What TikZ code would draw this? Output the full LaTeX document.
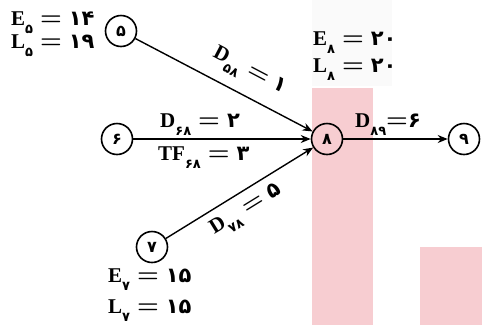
\documentclass[tikz,border=0pt]{standalone}
\usepackage{fontspec}
\setmainfont{Liberation Serif}
\newfontfamily\fadig{DejaVu Sans}
\usetikzlibrary{arrows.meta}
\newcommand{\pd}[1]{{\fontsize{21}{21}\fadig\bfseries #1}}
\newcommand{\sbd}[1]{\raisebox{-8pt}{\fontsize{13}{13}\fadig\bfseries #1}}
\newcommand{\eqm}{{\fontsize{25}{25}\selectfont\boldmath$=$}}
\newcommand{\eqs}{\hspace{7pt}\eqm\hspace{7pt}}
\definecolor{wmpink}{RGB}{247,205,209}
\begin{document}
\begin{tikzpicture}[x=1pt,y=-1pt,
  ev/.style={circle,draw,line width=1.6pt,minimum size=31pt,inner sep=0pt,font=\fontsize{16}{16}\fadig\bfseries},
  act/.style={line width=1.4pt,-{Stealth[length=10pt,width=8pt]}},
  lbl/.style={font=\fontsize{21}{22}\selectfont\bfseries,inner sep=0pt},
  slbl/.style={font=\fontsize{21}{22}\selectfont\bfseries,inner sep=2pt},
]
\useasboundingbox (0,0) rectangle (482,325);
% watermark patches
\fill[gray!4] (312,0) rectangle (392,86);
\fill[wmpink] (312,88) rectangle (373,325);
\fill[wmpink] (420,247) rectangle (482,325);
% events
\node[ev] (n5) at (121,31) {۵};
\node[ev] (n6) at (117,139) {۶};
\node[ev] (n8) at (327,139) {۸};
\node[ev] (n9) at (464,139) {۹};
\node[ev] (n7) at (152,247) {۷};
% activities
\draw[act] (n5) -- node[slbl,sloped,pos=0.58,above=9pt] {D\sbd{۵۸}\eqs\pd{۱}} (n8);
\draw[act] (n6) -- (n8);
\draw[act] (n7) -- node[slbl,sloped,pos=0.48,below=6pt] {D\sbd{۷۸}\eqs\pd{۵}} (n8);
\draw[act] (n8) -- (n9);
% labels
\node[lbl,anchor=base west] (e5) at (11,25) {E\sbd{۵}\eqs\pd{۱۴}};
\node[lbl,anchor=base west] (l5) at (11,48) {L\sbd{۵}\eqs\pd{۱۹}};
\node[lbl,anchor=base west] (e8) at (313,45) {E\sbd{۸}\eqs\pd{۲۰}};
\node[lbl,anchor=base west] (l8) at (313,72) {L\sbd{۸}\eqs\pd{۲۰}};
\node[lbl,anchor=base west] (e7) at (108,282) {E\sbd{۷}\eqs\pd{۱۵}};
\node[lbl,anchor=base west] (l7) at (108,313) {L\sbd{۷}\eqs\pd{۱۵}};
\node[lbl,anchor=base west] (d68) at (160,127) {D\sbd{۶۸}\eqs\pd{۲}};
\node[lbl,anchor=base west] (tf68) at (158,160) {TF\sbd{۶۸}\eqs\pd{۳}};
\node[lbl,anchor=base west] (d89) at (355,127) {D\sbd{۸۹}\eqm\pd{۶}};
\end{tikzpicture}
\end{document}
